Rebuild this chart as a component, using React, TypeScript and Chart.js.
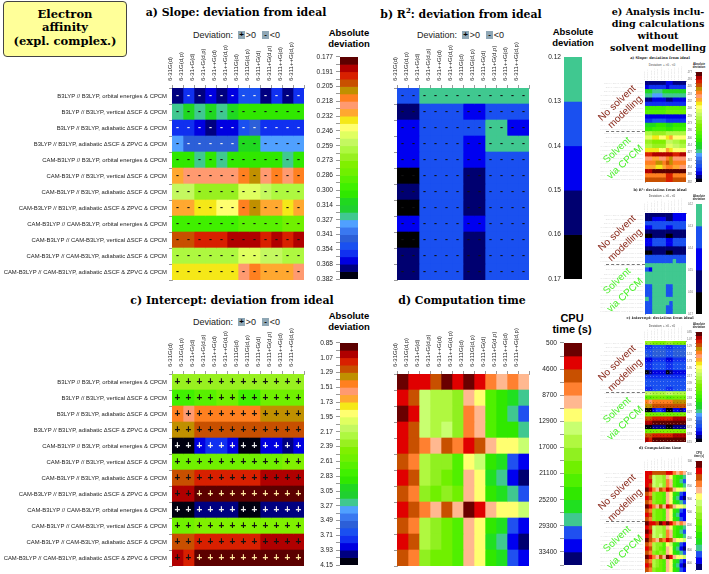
import React, { useEffect, useRef } from "react";
import { Chart, registerables } from "chart.js";

Chart.register(...registerables);

const basisSets = ["6-31G(d)", "6-31G(d,p)", "6-31+G(d)", "6-31+G(d,p)", "6-31++G(d)", "6-31++G(d,p)", "6-311G(d)", "6-311G(d,p)", "6-311+G(d)", "6-311+G(d,p)", "6-311++G(d)", "6-311++G(d,p)"];
const methods = [
  "B3LYP // B3LYP, orbital energies & CPCM",
  "B3LYP // B3LYP, vertical ΔSCF & CPCM",
  "B3LYP // B3LYP, adiabatic ΔSCF & CPCM",
  "B3LYP // B3LYP, adiabatic ΔSCF & ZPVC & CPCM",
  "CAM-B3LYP // B3LYP, orbital energies & CPCM",
  "CAM-B3LYP // B3LYP, vertical ΔSCF & CPCM",
  "CAM-B3LYP // B3LYP, adiabatic ΔSCF & CPCM",
  "CAM-B3LYP // B3LYP, adiabatic ΔSCF & ZPVC & CPCM",
  "CAM-B3LYP // CAM-B3LYP, orbital energies & CPCM",
  "CAM-B3LYP // CAM-B3LYP, vertical ΔSCF & CPCM",
  "CAM-B3LYP // CAM-B3LYP, adiabatic ΔSCF & CPCM",
  "CAM-B3LYP // CAM-B3LYP, adiabatic ΔSCF & ZPVC & CPCM",
];
const miniMethods = [...methods, ...methods];

const paletteFine = ["#5c0000", "#b00000", "#d82000", "#c85000", "#c09000", "#ff8020", "#ff9a70", "#ffa830", "#f5e818", "#ffff70", "#e0ff60", "#c4f860", "#aef840", "#98f020", "#80f000", "#70f000", "#58f000", "#40f000", "#30e800", "#20d820", "#20d030", "#40c890", "#50a0ff", "#3a78f0", "#2c5fd8", "#1a50f0", "#1030f0", "#0000e0", "#000080", "#000010"];
const paletteR2 = ["#40c890", "#1a50f0", "#0000f0", "#000070", "#000000"];
const paletteTime = ["#6a0000", "#e00000", "#c85000", "#ff8030", "#ffb890", "#ffff70", "#c8ff70", "#b0f840", "#90f020", "#70f000", "#50f000", "#30e800", "#20e020", "#40c890", "#2050f0", "#0000f0", "#000070"];

const slopeTicks = ["0.177", "0.191", "0.205", "0.218", "0.232", "0.246", "0.259", "0.273", "0.286", "0.300", "0.314", "0.327", "0.341", "0.354", "0.368", "0.382"];
const r2Ticks = ["0.12", "0.13", "0.14", "0.15", "0.16", "0.17"];
const interceptTicks = ["0.85", "1.07", "1.29", "1.51", "1.73", "1.95", "2.17", "2.39", "2.61", "2.83", "3.05", "3.27", "3.49", "3.71", "3.93", "4.15"];
const timeTicks = ["500", "4600", "8700", "12900", "17000", "21100", "25200", "29300", "33400"];

const slopeCells = [
  [28, 26, 28, 27, 28, 27, 25, 25, 28, 26, 28, 26],
  [21, 19, 21, 19, 21, 19, 18, 18, 18, 18, 18, 18],
  [26, 26, 27, 28, 27, 27, 25, 24, 26, 26, 26, 26],
  [22, 24, 24, 24, 24, 24, 19, 19, 22, 22, 22, 22],
  [18, 18, 21, 18, 21, 18, 18, 18, 18, 18, 21, 18],
  [7, 6, 6, 6, 6, 6, 5, 4, 6, 5, 6, 5],
  [11, 11, 13, 13, 13, 13, 10, 10, 11, 12, 12, 12],
  [7, 7, 8, 8, 9, 9, 5, 4, 7, 7, 8, 7],
  [17, 17, 17, 17, 17, 17, 16, 16, 16, 16, 15, 15],
  [3, 3, 2, 2, 2, 1, 1, 1, 2, 1, 2, 1],
  [12, 12, 12, 12, 12, 12, 10, 10, 11, 11, 12, 12],
  [8, 8, 8, 8, 8, 8, 6, 5, 7, 7, 7, 6],
];
const r2Cells = [
  [1, 1, 0, 0, 0, 0, 0, 0, 0, 0, 0, 0],
  [3, 3, 1, 1, 1, 1, 2, 2, 1, 1, 1, 1],
  [2, 2, 1, 1, 1, 1, 1, 1, 0, 0, 2, 2],
  [2, 2, 1, 1, 1, 1, 2, 2, 0, 0, 0, 0],
  [2, 2, 1, 1, 1, 1, 2, 2, 1, 1, 1, 1],
  [4, 4, 1, 1, 1, 1, 3, 3, 1, 1, 1, 1],
  [3, 3, 1, 1, 1, 1, 3, 3, 1, 1, 1, 1],
  [4, 4, 1, 1, 1, 1, 3, 3, 1, 1, 1, 1],
  [2, 2, 1, 1, 1, 1, 2, 2, 1, 1, 1, 1],
  [4, 4, 1, 1, 1, 1, 3, 3, 1, 1, 1, 1],
  [3, 3, 1, 1, 1, 1, 3, 3, 1, 1, 1, 1],
  [3, 3, 1, 1, 1, 1, 3, 3, 1, 1, 1, 1],
];
const interceptCells = [
  [13, 13, 13, 13, 13, 13, 13, 13, 13, 13, 13, 13],
  [17, 17, 16, 16, 15, 15, 17, 17, 15, 15, 15, 15],
  [5, 6, 5, 5, 5, 5, 5, 5, 4, 4, 4, 4],
  [4, 4, 3, 3, 3, 3, 3, 3, 3, 3, 3, 3],
  [29, 29, 27, 26, 26, 27, 29, 29, 27, 27, 28, 27],
  [15, 15, 15, 15, 15, 15, 15, 15, 15, 15, 14, 14],
  [3, 3, 2, 2, 2, 2, 2, 2, 1, 1, 1, 1],
  [1, 1, 0, 0, 0, 0, 0, 0, 0, 0, 0, 0],
  [29, 29, 28, 28, 28, 28, 29, 29, 28, 28, 28, 28],
  [15, 15, 14, 14, 14, 14, 14, 14, 14, 14, 14, 14],
  [3, 3, 2, 2, 2, 2, 2, 2, 1, 1, 1, 1],
  [1, 2, 0, 0, 0, 0, 0, 0, 0, 0, 0, 0],
];
const timeCells = [
  [0, 1, 1, 2, 0, 1, 0, 1, 3, 4, 3, 4],
  [1, 2, 6, 7, 7, 8, 4, 5, 10, 11, 12, 13],
  [0, 1, 6, 7, 7, 8, 3, 4, 10, 11, 13, 14],
  [1, 2, 6, 7, 6, 8, 3, 4, 10, 11, 11, 13],
  [1, 2, 3, 4, 2, 3, 1, 2, 4, 5, 5, 6],
  [2, 3, 7, 8, 8, 10, 5, 6, 11, 12, 14, 15],
  [1, 2, 7, 8, 9, 10, 4, 5, 12, 13, 15, 16],
  [2, 3, 8, 9, 8, 9, 4, 5, 11, 12, 13, 14],
  [1, 2, 3, 4, 2, 4, 0, 1, 4, 5, 5, 6],
  [2, 3, 7, 8, 9, 10, 4, 5, 11, 12, 14, 15],
  [1, 2, 7, 8, 9, 10, 4, 5, 12, 13, 15, 16],
  [2, 3, 8, 9, 9, 10, 4, 5, 11, 12, 14, 15],
];

const miniSlopeCells = [
  [28, 28, 28, 28, 28, 28, 27, 27, 28, 28, 28, 28],
  [27, 26, 26, 26, 26, 26, 27, 26, 26, 26, 26, 26],
  [19, 19, 21, 21, 21, 19, 19, 19, 19, 19, 19, 19],
  [21, 21, 22, 22, 22, 21, 21, 21, 21, 21, 21, 21],
  [28, 28, 27, 27, 27, 27, 28, 28, 27, 27, 27, 27],
  [26, 26, 26, 26, 26, 26, 26, 26, 26, 26, 26, 26],
  [17, 17, 17, 17, 17, 17, 16, 16, 16, 16, 16, 16],
  [16, 16, 16, 16, 16, 16, 15, 15, 15, 15, 15, 15],
  [27, 27, 27, 27, 27, 27, 27, 27, 27, 27, 27, 27],
  [26, 26, 25, 25, 25, 25, 26, 26, 26, 26, 26, 26],
  [19, 19, 19, 18, 18, 18, 19, 19, 18, 18, 18, 18],
  [18, 18, 17, 17, 17, 17, 18, 18, 17, 17, 17, 17],
  [12, 12, 13, 13, 13, 13, 12, 12, 12, 12, 12, 12],
  [10, 10, 8, 8, 9, 9, 8, 7, 9, 9, 9, 9],
  [13, 13, 14, 14, 14, 14, 11, 11, 12, 12, 13, 13],
  [12, 12, 13, 13, 13, 13, 10, 10, 11, 11, 12, 12],
  [8, 8, 8, 8, 9, 9, 7, 8, 9, 9, 9, 9],
  [2, 2, 1, 1, 1, 1, 1, 1, 2, 2, 1, 1],
  [6, 6, 7, 7, 6, 6, 5, 4, 6, 6, 6, 6],
  [5, 5, 5, 4, 4, 5, 3, 4, 5, 5, 5, 5],
  [7, 7, 7, 8, 8, 7, 5, 5, 7, 7, 6, 6],
  [1, 1, 0, 0, 0, 0, 0, 0, 0, 0, 0, 0],
  [5, 5, 5, 5, 5, 5, 2, 2, 5, 5, 5, 5],
  [3, 3, 3, 3, 3, 3, 2, 2, 3, 3, 3, 3],
];
const miniR2Cells = [
  [3, 3, 3, 3, 3, 3, 3, 3, 2, 2, 2, 2],
  [3, 3, 2, 2, 2, 2, 3, 3, 2, 2, 2, 2],
  [1, 1, 1, 1, 1, 1, 1, 1, 1, 1, 1, 1],
  [2, 2, 1, 1, 1, 1, 2, 2, 1, 1, 1, 1],
  [3, 3, 3, 3, 3, 3, 3, 3, 3, 3, 3, 3],
  [4, 4, 3, 3, 3, 3, 4, 4, 3, 3, 3, 3],
  [2, 2, 1, 1, 1, 1, 2, 2, 1, 1, 1, 1],
  [2, 2, 1, 1, 1, 1, 2, 2, 1, 1, 1, 1],
  [3, 3, 3, 3, 3, 3, 3, 3, 3, 3, 3, 3],
  [4, 4, 3, 3, 3, 3, 4, 4, 3, 3, 3, 3],
  [1, 1, 1, 1, 1, 1, 1, 1, 1, 1, 1, 1],
  [1, 1, 1, 1, 1, 1, 1, 1, 0, 1, 1, 1],
  [0, 0, 0, 0, 0, 0, 0, 0, 0, 0, 0, 0],
  [1, 2, 0, 0, 0, 0, 0, 0, 0, 0, 0, 0],
  [0, 0, 0, 0, 0, 0, 0, 0, 0, 0, 0, 0],
  [0, 0, 0, 0, 0, 0, 0, 0, 0, 0, 0, 0],
  [0, 0, 0, 0, 0, 0, 0, 0, 0, 0, 0, 0],
  [1, 1, 0, 0, 0, 0, 1, 1, 0, 0, 0, 0],
  [1, 1, 0, 0, 0, 0, 1, 1, 0, 0, 0, 0],
  [1, 1, 0, 0, 0, 0, 1, 1, 0, 0, 0, 0],
  [0, 1, 0, 0, 0, 0, 0, 0, 0, 0, 0, 0],
  [1, 1, 0, 0, 0, 0, 0, 1, 0, 0, 0, 0],
  [1, 1, 0, 0, 0, 0, 1, 1, 0, 0, 0, 0],
  [1, 1, 0, 0, 0, 0, 1, 1, 0, 0, 0, 0],
];
const miniInterceptCells = [
  [13, 13, 14, 14, 14, 14, 13, 13, 14, 14, 14, 14],
  [26, 26, 25, 25, 25, 25, 26, 26, 25, 25, 25, 25],
  [25, 25, 24, 24, 24, 24, 25, 25, 24, 24, 24, 24],
  [24, 25, 24, 24, 24, 24, 25, 25, 24, 24, 24, 24],
  [27, 27, 26, 26, 26, 26, 27, 27, 26, 26, 26, 26],
  [26, 26, 25, 25, 25, 25, 26, 26, 25, 25, 25, 25],
  [26, 26, 25, 25, 25, 25, 26, 26, 25, 25, 25, 25],
  [29, 28, 27, 27, 27, 27, 29, 28, 27, 27, 27, 27],
  [26, 26, 26, 26, 26, 26, 26, 26, 26, 26, 26, 26],
  [25, 25, 25, 25, 25, 25, 25, 25, 25, 25, 25, 25],
  [25, 25, 25, 25, 25, 25, 25, 25, 25, 25, 25, 25],
  [26, 26, 25, 25, 25, 25, 26, 26, 25, 25, 25, 25],
  [11, 11, 12, 12, 12, 12, 11, 11, 12, 12, 12, 12],
  [16, 16, 15, 15, 15, 15, 16, 16, 15, 15, 15, 15],
  [5, 6, 5, 5, 5, 5, 5, 5, 4, 4, 4, 4],
  [4, 4, 3, 3, 3, 3, 3, 3, 3, 3, 3, 3],
  [29, 29, 27, 26, 26, 27, 29, 29, 27, 27, 28, 27],
  [15, 15, 15, 15, 15, 15, 15, 15, 15, 15, 14, 14],
  [3, 3, 2, 2, 2, 2, 2, 2, 1, 1, 1, 1],
  [1, 1, 0, 0, 0, 0, 0, 0, 0, 0, 0, 0],
  [29, 29, 28, 28, 28, 28, 29, 29, 28, 28, 28, 28],
  [15, 15, 14, 14, 14, 14, 14, 14, 14, 14, 14, 14],
  [3, 3, 2, 2, 2, 2, 2, 2, 1, 1, 1, 1],
  [1, 2, 0, 0, 0, 0, 0, 0, 0, 0, 0, 0],
];
const miniTimeCells = [
  [1, 1, 2, 2, 2, 2, 1, 1, 3, 4, 3, 4],
  [1, 2, 6, 7, 7, 8, 4, 5, 10, 11, 12, 13],
  [1, 1, 6, 7, 7, 8, 3, 4, 10, 11, 13, 14],
  [1, 2, 6, 7, 6, 8, 3, 4, 10, 11, 11, 13],
  [0, 1, 3, 4, 2, 3, 1, 2, 4, 5, 5, 6],
  [2, 3, 8, 9, 9, 10, 4, 5, 11, 12, 14, 15],
  [1, 2, 8, 9, 9, 10, 4, 5, 12, 13, 15, 16],
  [2, 3, 8, 9, 9, 10, 4, 5, 11, 12, 13, 14],
  [0, 1, 3, 4, 2, 4, 1, 2, 4, 5, 5, 6],
  [2, 3, 8, 9, 9, 10, 4, 5, 11, 12, 14, 15],
  [1, 2, 8, 9, 9, 10, 4, 5, 12, 13, 15, 15],
  [2, 3, 8, 9, 9, 10, 4, 5, 11, 12, 14, 15],
  [0, 1, 1, 2, 0, 1, 0, 1, 3, 4, 3, 4],
  [1, 2, 6, 7, 7, 8, 4, 5, 10, 11, 12, 13],
  [0, 1, 6, 7, 7, 8, 3, 4, 10, 11, 13, 14],
  [1, 2, 6, 7, 6, 8, 3, 4, 10, 11, 11, 13],
  [0, 2, 3, 4, 2, 3, 1, 2, 4, 5, 5, 6],
  [2, 3, 7, 8, 8, 10, 5, 6, 11, 12, 14, 15],
  [1, 2, 7, 8, 9, 10, 4, 5, 12, 13, 15, 16],
  [2, 3, 8, 9, 8, 9, 4, 5, 11, 12, 13, 14],
  [0, 1, 3, 4, 2, 4, 0, 1, 4, 5, 5, 6],
  [2, 3, 7, 8, 9, 10, 4, 5, 11, 12, 14, 15],
  [1, 2, 7, 8, 9, 10, 4, 5, 12, 13, 15, 16],
  [2, 3, 8, 9, 9, 10, 4, 5, 11, 12, 14, 15],
];

const SANS = "'Liberation Sans', Arial, sans-serif";
const SERIF = "'DejaVu Serif', serif";
const PAD = 6;

type HeatProps = {
  x: number; y: number; w: number; h: number; cells: number[][]; palette: string[];
  rowLabels: string[]; sign?: string; left: number; top: number; colPad: number;
  rowFont: number; colFont: number; signFont?: number; labelColor?: string; tick?: number; signLight?: (i: number) => string;
};

function Heatmap(p: HeatProps) {
  const ref = useRef<HTMLCanvasElement>(null);
  useEffect(() => {
    const signPlugin = {
      id: "cellSigns",
      afterDatasetsDraw(chart: any) {
        if (!p.sign) return;
        const c = chart.ctx;
        c.save();
        c.textAlign = "center";
        c.textBaseline = "middle";
        c.font = `bold ${p.signFont}px ${SANS}`;
        chart.data.datasets.forEach((_: any, j: number) => {
          chart.getDatasetMeta(j).data.forEach((el: any, i: number) => {
            const pt = el.getCenterPoint();
            c.fillStyle = p.signLight ? p.signLight(p.cells[i][j]) : "#111";
            c.fillText(p.sign, pt.x, pt.y);
          });
        });
        c.restore();
      },
    };
    const chart = new Chart(ref.current!, {
      type: "bar",
      data: {
        labels: p.rowLabels,
        datasets: basisSets.map((name, j) => ({
          label: name,
          xAxisID: "x",
          yAxisID: "y",
          data: p.cells.map(() => 1),
          backgroundColor: p.cells.map((r) => p.palette[r[j]]),
          borderWidth: 0,
          barPercentage: 1,
          categoryPercentage: 1,
        })),
      },
      plugins: [signPlugin],
      options: {
        indexAxis: "y",
        animation: false,
        responsive: false,
        events: [],
        layout: { autoPadding: false, padding: { top: PAD, bottom: PAD, right: PAD, left: 0 } },
        plugins: { legend: { display: false }, tooltip: { enabled: false }, title: { display: false } },
        scales: {
          x: { type: "linear", display: false, stacked: true, min: 0, max: basisSets.length },
          y: {
            type: "category",
            stacked: true,
            offset: true,
            afterFit: (s: any) => { s.width = p.left; },
            border: { color: "#555", width: 0.6 },
            grid: { offset: true, drawOnChartArea: false, tickLength: p.tick, color: "#555", lineWidth: 0.6 },
            ticks: { autoSkip: false, padding: 2, color: p.labelColor, font: { family: SANS, size: p.rowFont } },
          },
          xTop: {
            axis: "x",
            type: "category",
            position: "top",
            labels: basisSets,
            offset: true,
            afterFit: (s: any) => { s.height = p.top; },
            border: { color: "#555", width: 0.6 },
            grid: { offset: true, drawOnChartArea: false, tickLength: p.tick, color: "#555", lineWidth: 0.6 },
            ticks: { autoSkip: false, minRotation: 90, maxRotation: 90, padding: p.colPad, color: p.labelColor, font: { family: SANS, size: p.colFont } },
          },
        },
      } as any,
    } as any);
    return () => chart.destroy();
  }, []);
  const cw = p.left + p.w + PAD;
  const ch = PAD + p.top + p.h + PAD;
  return <canvas ref={ref} width={cw} height={ch} style={{ position: "absolute", left: p.x - p.left, top: p.y - p.top - PAD, width: cw, height: ch }} />;
}

type BarProps = {
  x: number; y: number; w: number; h: number; palette: string[]; labels: string[]; stride: number;
  font: number; tick: number; left: number; color?: string;
};

function ColorBar(p: BarProps) {
  const ref = useRef<HTMLCanvasElement>(null);
  useEffect(() => {
    const chart = new Chart(ref.current!, {
      type: "bar",
      data: {
        labels: ["scale"],
        datasets: p.palette.map((colour, i) => ({
          label: String(i),
          data: [1],
          backgroundColor: colour,
          borderWidth: 0,
          barPercentage: 1,
          categoryPercentage: 1,
        })),
      },
      options: {
        animation: false,
        responsive: false,
        events: [],
        layout: { autoPadding: false, padding: { top: PAD, bottom: PAD, right: PAD, left: 0 } },
        plugins: { legend: { display: false }, tooltip: { enabled: false }, title: { display: false } },
        scales: {
          x: { display: false, stacked: true },
          y: {
            type: "linear",
            stacked: true,
            reverse: true,
            min: 0,
            max: p.palette.length,
            afterFit: (s: any) => { s.width = p.left; },
            border: { display: false },
            grid: { drawOnChartArea: false, tickLength: p.tick, drawTicks: p.tick > 0, color: "#555", lineWidth: 0.6 },
            ticks: {
              stepSize: 1,
              autoSkip: false,
              padding: 3,
              color: p.color,
              font: { family: SANS, size: p.font },
              callback: (v: any) => (Number(v) % p.stride === 0 ? p.labels[Number(v) / p.stride] ?? "" : ""),
            },
          },
        },
      } as any,
    } as any);
    return () => chart.destroy();
  }, []);
  const cw = p.left + p.w + PAD;
  const ch = p.h + 2 * PAD;
  return <canvas ref={ref} width={cw} height={ch} style={{ position: "absolute", left: p.x - p.left, top: p.y - PAD, width: cw, height: ch }} />;
}

function T({ x, y, size, family = SANS, bold = false, color = "#000", rotate = 0, children }: any) {
  return (
    <div
      style={{
        position: "absolute", left: x, top: y, transform: `translate(-50%,-50%) rotate(${rotate}deg)`,
        fontFamily: family, fontSize: size, fontWeight: bold ? 700 : 400, color, whiteSpace: "nowrap", lineHeight: 1,
      }}
    >
      {children}
    </div>
  );
}

function Deviation({ x, y }: { x: number; y: number }) {
  const box = (left: number, s: string) => (
    <div style={{ position: "absolute", left: x + left, top: y - 4, width: 7, height: 8, background: "#8fa7b5", color: "#000", fontFamily: SANS, fontWeight: 700, fontSize: 8, lineHeight: "8px", textAlign: "center" }}>{s}</div>
  );
  return (
    <>
      <T x={x + 21} y={y} size={9} color="#222">Deviation:</T>
      {box(46, "+")}
      <T x={x + 59} y={y} size={9} color="#222">&gt;0</T>
      {box(70, "-")}
      <T x={x + 83} y={y} size={9} color="#222">&lt;0</T>
    </>
  );
}

const signTone = (i: number) => (i === 0 ? "#ffe9a0" : i >= 23 ? "#f0f0f0" : "#111");
const signToneR2 = () => "#111";

function Mini({ y, barY, cells, palette, labels, stride, sign, signColor, title, titleY, cap1, cap2, devY, tick, barH, dashY, no1, no2, so1, so2 }: any) {
  return (
    <>
      <T x={660} y={titleY} size={3.6} family={SERIF} bold color="#222">{title}</T>
      {devY ? <T x={662} y={devY} size={3} color="#444">Deviation: + &gt;0  - &lt;0</T> : null}
      <T x={699} y={barY - 8} size={2.8} bold color="#222">{cap1}</T>
      <T x={699} y={barY - 5} size={2.8} bold color="#222">{cap2}</T>
      <Heatmap x={645} y={y} w={41} h={101} cells={cells} palette={palette} rowLabels={miniMethods} sign={sign} signFont={2.4} signLight={signColor} left={45} top={15} colPad={1} rowFont={2.1} colFont={2.2} labelColor="#d8d8d8" tick={0} />
      <ColorBar x={696} y={barY} w={6} h={barH} palette={palette} labels={labels} stride={stride} font={2.6} tick={tick} left={9} color="#666" />
      <div style={{ position: "absolute", left: 606, top: dashY, width: 39, borderTop: "1px dashed #777" }} />
      <T x={617} y={no1} size={10} color="#8a2a1c" rotate={-43}>No solvent</T>
      <T x={625} y={no2} size={10} color="#8a2a1c" rotate={-43}>modelling</T>
      <T x={617} y={so1} size={10} color="#4cf02c" rotate={-43}>Solvent</T>
      <T x={625} y={so2} size={10} color="#4cf02c" rotate={-43}>via CPCM</T>
    </>
  );
}

export default function App() {
  const main = { w: 132, h: 192, left: 172, top: 48, colPad: 4, rowFont: 5.9, colFont: 6, tick: 3, labelColor: "#222" };
  return (
    <div style={{ position: "absolute", left: 0, top: 0, width: 709, height: 574, overflow: "hidden", background: "#fff" }}>
      <div style={{ position: "absolute", left: 3, top: 1, width: 122, height: 54, background: "#ffff99", border: "1px solid #444", borderRadius: 4 }} />
      <T x={65} y={14.5} size={11.5} family={SERIF} bold>Electron</T>
      <T x={65} y={28} size={11.5} family={SERIF} bold>affinity</T>
      <T x={65} y={42} size={11.5} family={SERIF} bold>(expl. complex.)</T>

      <T x={236} y={13} size={10.9} family={SERIF} bold>a) Slope: deviation from ideal</T>
      <T x={461} y={15} size={10.9} family={SERIF} bold>b) R<sup style={{ fontSize: 7, lineHeight: 0 }}>2</sup>: deviation from ideal</T>
      <T x={232} y={301} size={10.9} family={SERIF} bold>c) Intercept: deviation from ideal</T>
      <T x={462} y={301} size={10.9} family={SERIF} bold>d) Computation time</T>

      <T x={658} y={12} size={9.6} family={SERIF} bold>e) Analysis inclu-</T>
      <T x={658} y={24} size={9.6} family={SERIF} bold>ding calculations</T>
      <T x={658} y={36} size={9.6} family={SERIF} bold>without</T>
      <T x={658} y={48} size={9.6} family={SERIF} bold>solvent modelling</T>

      <Deviation x={192} y={35} />
      <Deviation x={416} y={35} />
      <Deviation x={192} y={322} />

      <T x={349} y={33} size={9.5} bold>Absolute</T>
      <T x={349} y={44} size={9.5} bold>deviation</T>
      <T x={573} y={32} size={9.5} bold>Absolute</T>
      <T x={573} y={43} size={9.5} bold>deviation</T>
      <T x={349} y={316} size={9.5} bold>Absolute</T>
      <T x={349} y={327} size={9.5} bold>deviation</T>
      <T x={572} y={318} size={11} bold>CPU</T>
      <T x={572} y={329} size={11} bold>time (s)</T>

      <Heatmap {...main} x={172} y={88} cells={slopeCells} palette={paletteFine} rowLabels={methods} sign="-" signFont={9} signLight={signTone} />
      <Heatmap {...main} x={397} y={88} cells={r2Cells} palette={paletteR2} rowLabels={methods.map(() => "")} sign="-" signFont={9} signLight={signToneR2} />
      <Heatmap {...main} x={172} y={374} cells={interceptCells} palette={paletteFine} rowLabels={methods} sign="+" signFont={10} signLight={signTone} />
      <Heatmap {...main} x={397} y={374} cells={timeCells} palette={paletteTime} rowLabels={methods.map(() => "")} />

      <ColorBar x={340} y={56} w={18} h={224} palette={paletteFine} labels={slopeTicks} stride={2} font={6.6} tick={4} left={30} color="#222" />
      <ColorBar x={564} y={56} w={18} h={224} palette={paletteR2} labels={r2Ticks} stride={1} font={6.6} tick={0} left={30} color="#222" />
      <ColorBar x={340} y={342} w={18} h={224} palette={paletteFine} labels={interceptTicks} stride={2} font={6.6} tick={4} left={30} color="#222" />
      <ColorBar x={564} y={342} w={18} h={224} palette={paletteTime} labels={timeTicks} stride={2} font={6.6} tick={4} left={30} color="#222" />

      <Mini y={81} barY={72} barH={110} cells={miniSlopeCells} palette={paletteFine} labels={slopeTicks} stride={2} sign="-" signColor={signTone} title="a) Slope: deviation from ideal" titleY={59} devY={65} cap1="Absolute" cap2="deviation" tick={1} dashY={131} no1={103} no2={112} so1={150} so2={162} />
      <Mini y={213} barY={204} barH={110} cells={miniR2Cells} palette={paletteR2} labels={r2Ticks} stride={1} sign="-" signColor={signToneR2} title="b) R²: deviation from ideal" titleY={191} devY={196} cap1="Absolute" cap2="deviation" tick={0} dashY={264} no1={233} no2={245} so1={281} so2={295} />
      <Mini y={341} barY={332} barH={110} cells={miniInterceptCells} palette={paletteFine} labels={interceptTicks} stride={2} sign="+" signColor={signTone} title="c) Intercept: deviation from ideal" titleY={319} devY={326} cap1="Absolute" cap2="deviation" tick={1} dashY={392} no1={363} no2={375} so1={410} so2={423} />
      <Mini y={471} barY={461} barH={109} cells={miniTimeCells} palette={paletteTime} labels={timeTicks} stride={2} title="d) Computation time" titleY={449} cap1="CPU" cap2="time (s)" tick={1} dashY={521} no1={492} no2={505} so1={539} so2={552} />
    </div>
  );
}
